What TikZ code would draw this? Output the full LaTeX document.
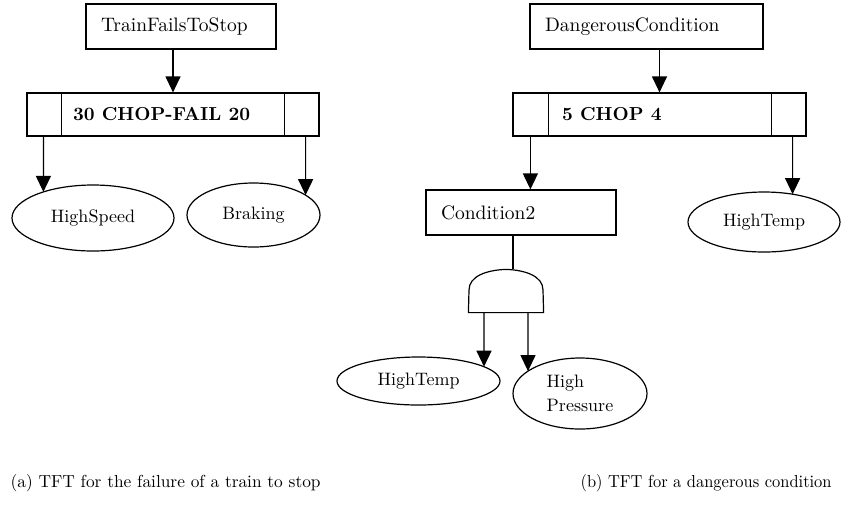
\documentclass[tikz,border=0pt]{standalone}
\usepackage{fontspec}
% Latin Modern at its 10pt design, scaled freely
\setmainfont{lmroman10-regular.otf}[BoldFont=lmroman10-bold.otf]
\usetikzlibrary{arrows.meta,shapes.geometric,intersections}
\begin{document}
\begin{tikzpicture}[x=1pt,y=-1pt,line width=1.2pt,
  evbox/.style={draw, rectangle, minimum height=45pt, inner xsep=15pt, inner ysep=0pt,
    align=left, font=\fontsize{19.5}{23}\selectfont},
  chopbox/.style={draw, rectangle, minimum height=43pt, inner sep=0pt},
  choplabel/.style={anchor=west, inner sep=0pt, font=\fontsize{18.8}{23}\selectfont\bfseries},
  leaf/.style={draw, ellipse, inner sep=0pt, align=left, font=\fontsize{18}{24}\selectfont},
  arr/.style={-{Triangle[length=16pt,width=15pt]}},
  caption/.style={anchor=base west, inner sep=0pt, font=\fontsize{17.4}{21}\selectfont}]

\useasboundingbox (0,0) rectangle (842,507);

% ---------- (a) train fails to stop ----------
\node[evbox, text width=160pt] (tfs) at (181,26.5) {TrainFailsToStop};
\node[chopbox, minimum width=292pt] (chopA) at (173,114.5) {};
\draw ([xshift=35pt]chopA.north west) -- ([xshift=35pt]chopA.south west);
\draw ([xshift=-35pt]chopA.north east) -- ([xshift=-35pt]chopA.south east);
\node[choplabel] (chopAtext) at ([xshift=46pt]chopA.west) {30 CHOP-FAIL 20};

\node[leaf, minimum width=162pt, minimum height=66pt, name path=hsP] (hs) at (93,218) {HighSpeed};
\node[leaf, minimum width=133pt, minimum height=64pt, name path=brkP] (brk) at (253.5,215) {Braking};

\draw[arr] (tfs.south -| chopA.north) -- (chopA.north);

\coordinate (aL) at ([xshift=17pt]chopA.south west);
\coordinate (aR) at ([xshift=-14pt]chopA.south east);
\path[name path=vaL] (aL) -- ++(0,120);
\path[name path=vaR] (aR) -- ++(0,120);
\path[name intersections={of=vaL and hsP, by=hsTop}];
\path[name intersections={of=vaR and brkP, by=brkTop}];
\draw[arr] (aL) -- (hsTop);
\draw[arr] (aR) -- (brkTop);

% ---------- (b) dangerous condition ----------
\node[evbox, text width=203pt] (dc) at (646.5,26.5) {DangerousCondition};
\node[chopbox, minimum width=293pt] (chopB) at (659.5,114.5) {};
\draw ([xshift=36pt]chopB.north west) -- ([xshift=36pt]chopB.south west);
\draw ([xshift=-35pt]chopB.north east) -- ([xshift=-35pt]chopB.south east);
\node[choplabel] (chopBtext) at ([xshift=49pt]chopB.west) {5 CHOP 4};

\draw[arr] (dc.south -| chopB.north) -- (chopB.north);

\node[evbox, text width=160pt] (cond) at (521,212.5) {Condition2};
\node[leaf, minimum width=152pt, minimum height=60pt, name path=htaP] (hta) at (764,222) {HighTemp};

\coordinate (bL) at ([xshift=18pt]chopB.south west);
\coordinate (bR) at ([xshift=-14pt]chopB.south east);
\path[name path=vbR] (bR) -- ++(0,120);
\path[name intersections={of=vbR and htaP, by=htaTop}];
\draw[arr] (bL) -- (bL |- cond.north);
\draw[arr] (bR) -- (htaTop);

% AND gate below Condition2
\node[inner sep=0pt, minimum width=74pt, minimum height=42pt] (gate) at (506,291) {};
\draw (gate.south west) -- (469,290)
  .. controls (469,276) and (487,270) .. (gate.north)
  .. controls (525,270) and (543,276) .. (543,290)
  -- (gate.south east) -- cycle;
\coordinate (gIn) at ([xshift=7pt]gate.north);
\draw (cond.south -| gIn) -- (gIn);

\node[leaf, minimum width=163pt, minimum height=48pt, name path=htbP] (htb) at (418.5,381) {HighTemp};
\node[leaf, minimum width=134pt, minimum height=71pt, name path=hpP] (hp) at (580,393.5) {High\\Pressure};

\coordinate (gL) at ([xshift=-22pt]gate.south);
\coordinate (gR) at ([xshift=22pt]gate.south);
\path[name path=vgL] (gL) -- ++(0,120);
\path[name path=vgR] (gR) -- ++(0,120);
\path[name intersections={of=vgL and htbP, by=htbTop}];
\path[name intersections={of=vgR and hpP, by=hpTop}];
\draw[arr] (gL) -- (htbTop);
\draw[arr] (gR) -- (hpTop);

% ---------- captions ----------
\node[caption] (capA) at (10,487) {\resizebox{310pt}{\height}{(a) TFT for the failure of a train to stop}};
\node[caption] (capB) at (580,487) {\resizebox{251pt}{\height}{(b) TFT for a dangerous condition}};

\end{tikzpicture}
\end{document}
